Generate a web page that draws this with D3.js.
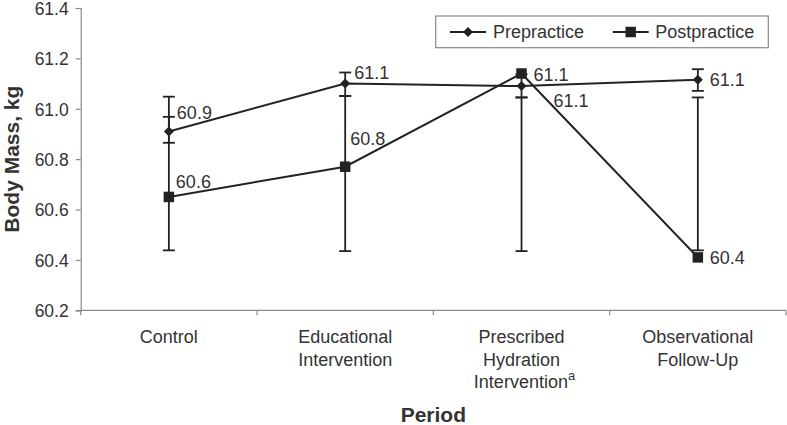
<!DOCTYPE html>
<html>
<head>
<meta charset="utf-8">
<script src="https://cdn.jsdelivr.net/npm/d3@7"></script>
<style>
  html, body { margin: 0; padding: 0; background: #fff; }
  svg { display: block; font-family: "Liberation Sans", Arial, Helvetica, sans-serif; }
</style>
</head>
<body>
<svg id="chart" width="787" height="425"></svg>
<script>
// ---- data ----
const categories = ["Control", "Educational Intervention", "Prescribed Hydration Intervention", "Observational Follow-Up"];
const categoryLines = [["Control"], ["Educational", "Intervention"], ["Prescribed", "Hydration", "Intervention"], ["Observational", "Follow-Up"]];
const categorySuperscripts = ["", "", "a", ""];
const seriesNames = ["Prepractice", "Postpractice"];
const prepractice = [60.91, 61.10, 61.09, 61.115];
const postpractice = [60.65, 60.77, 61.14, 60.41];
const preLow = [60.865, 61.051, 61.045, 61.071];
const preHigh = [60.968, 61.144, 61.137, 61.157];
const postLow = [60.438, 60.435, 60.435, 60.438];
const postHigh = [61.048, 61.051, 61.045, 61.045];
const preLabels = ["60.9", "61.1", "61.1", "61.1"];
const postLabels = ["60.6", "60.8", "61.1", "60.4"];
const yTicks = [60.2, 60.4, 60.6, 60.8, 61.0, 61.2, 61.4];

// ---- layout / styles ----
const plotLeft = 80.7, plotRight = 786, plotTop = 8, plotBottom = 310.3;
const preLabelOffsets = [[8, -19], [9, -11], [32, 15], [12, 0]];
const postLabelOffsets = [[7, -15], [5, -28], [12, 1], [12, 0]];
const ink = "#222", textCol = "#333", axisCol = "#8a8a8a";
const fs = 18;

const svg = d3.select("#chart");
const x = d3.scaleBand().domain(categories).range([plotLeft, plotRight]).padding(0);
const y = d3.scaleLinear().domain([60.2, 61.4]).range([plotBottom, plotTop]);
const cx = i => x(categories[i]) + x.bandwidth() / 2;

// y axis
const yAxis = svg.append("g").attr("transform", `translate(${plotLeft},0)`)
  .call(d3.axisLeft(y).tickValues(yTicks).tickFormat(d3.format(".1f")).tickSize(5).tickPadding(7));
yAxis.select(".domain").attr("stroke", axisCol).attr("stroke-width", 1.2);
yAxis.selectAll(".tick line").attr("stroke", axisCol).attr("stroke-width", 1.2);
yAxis.selectAll(".tick text").attr("fill", textCol).attr("font-size", 17.5).attr("dy", "0.36em")
  .attr("font-family", "Liberation Sans, Arial, sans-serif");

// x axis (ticks at category boundaries)
const xAxisG = svg.append("g").attr("transform", `translate(0,${plotBottom})`);
xAxisG.append("line").attr("x1", plotLeft).attr("x2", plotRight).attr("y1", 0).attr("y2", 0)
  .attr("stroke", axisCol).attr("stroke-width", 1.2);
const boundaries = categories.map(c => x(c)).concat([plotRight]);
xAxisG.selectAll("line.tk").data(boundaries).join("line").attr("class", "tk")
  .attr("x1", d => d).attr("x2", d => d).attr("y1", 0).attr("y2", 5)
  .attr("stroke", axisCol).attr("stroke-width", 1.2);

// category labels
categories.forEach((c, i) => {
  const t = svg.append("text").attr("x", cx(i)).attr("y", 343).attr("text-anchor", "middle")
    .attr("fill", textCol).attr("font-size", fs);
  const lines = categoryLines[i];
  lines.forEach((ln, j) => {
    if (j === lines.length - 1 && categorySuperscripts[i]) {
      const sub = svg.append("text").attr("x", cx(i) + 3).attr("y", 343 + j * 22.5)
        .attr("text-anchor", "middle").attr("fill", textCol).attr("font-size", fs);
      sub.append("tspan").text(ln);
      sub.append("tspan").attr("font-size", 13).attr("dy", -8).text(categorySuperscripts[i]);
    } else {
      t.append("tspan").attr("x", cx(i)).attr("y", 343 + j * 22.5).text(ln);
    }
  });
});

// axis titles
svg.append("text").attr("x", (plotLeft + plotRight) / 2).attr("y", 422).attr("text-anchor", "middle")
  .attr("font-weight", "bold").attr("font-size", 21).attr("fill", textCol).text("Period");
svg.append("text").attr("transform", `translate(19,${(plotTop + plotBottom) / 2}) rotate(-90)`)
  .attr("text-anchor", "middle").attr("font-weight", "bold").attr("font-size", 21)
  .attr("fill", textCol).text("Body Mass, kg");

// error bars
function errorBars(low, high) {
  const g = svg.append("g").attr("stroke", ink).attr("stroke-width", 1.8);
  low.forEach((lo, i) => {
    const hi = high[i], xc = cx(i);
    g.append("line").attr("x1", xc).attr("x2", xc).attr("y1", y(lo)).attr("y2", y(hi));
    g.append("line").attr("x1", xc - 6).attr("x2", xc + 6).attr("y1", y(lo)).attr("y2", y(lo));
    g.append("line").attr("x1", xc - 6).attr("x2", xc + 6).attr("y1", y(hi)).attr("y2", y(hi));
  });
}
errorBars(postLow, postHigh);
errorBars(preLow, preHigh);

// lines
const line = d3.line().x((d, i) => cx(i)).y(d => y(d));
svg.append("path").datum(prepractice).attr("d", line).attr("fill", "none").attr("stroke", ink).attr("stroke-width", 2);
svg.append("path").datum(postpractice).attr("d", line).attr("fill", "none").attr("stroke", ink).attr("stroke-width", 2);

// markers
const diamond = d3.symbol().type(d3.symbolDiamond2).size(64);
const square = d3.symbol().type(d3.symbolSquare).size(110);
svg.selectAll("path.pre").data(prepractice).join("path").attr("class", "pre")
  .attr("d", diamond).attr("transform", (d, i) => `translate(${cx(i)},${y(d)})`).attr("fill", ink);
svg.selectAll("path.post").data(postpractice).join("path").attr("class", "post")
  .attr("d", square).attr("transform", (d, i) => `translate(${cx(i)},${y(d)})`).attr("fill", ink);

// data labels
function labels(vals, texts, offs) {
  svg.append("g").selectAll("text").data(vals).join("text")
    .attr("x", (d, i) => cx(i) + offs[i][0]).attr("y", (d, i) => y(d) + offs[i][1])
    .attr("dy", "0.35em").attr("font-size", fs).attr("fill", textCol)
    .text((d, i) => texts[i]);
}
labels(prepractice, preLabels, preLabelOffsets);
labels(postpractice, postLabels, postLabelOffsets);

// legend
const lg = svg.append("g");
lg.append("rect").attr("x", 435.7).attr("y", 16).attr("width", 332.6).attr("height", 31.7)
  .attr("fill", "#fff").attr("stroke", axisCol).attr("stroke-width", 1.2);
const legendItems = [{ sym: diamond, x0: 450, tx: 493 }, { sym: square, x0: 612.7, tx: 655.3 }];
legendItems.forEach((it, i) => {
  const yc = 32;
  lg.append("line").attr("x1", it.x0).attr("x2", it.x0 + 36).attr("y1", yc).attr("y2", yc)
    .attr("stroke", ink).attr("stroke-width", 2);
  lg.append("path").attr("d", it.sym).attr("transform", `translate(${it.x0 + 18},${yc})`).attr("fill", ink);
  lg.append("text").attr("x", it.tx).attr("y", yc).attr("dy", "0.35em").attr("font-size", fs)
    .attr("fill", textCol).text(seriesNames[i]);
});
</script>
</body>
</html>
